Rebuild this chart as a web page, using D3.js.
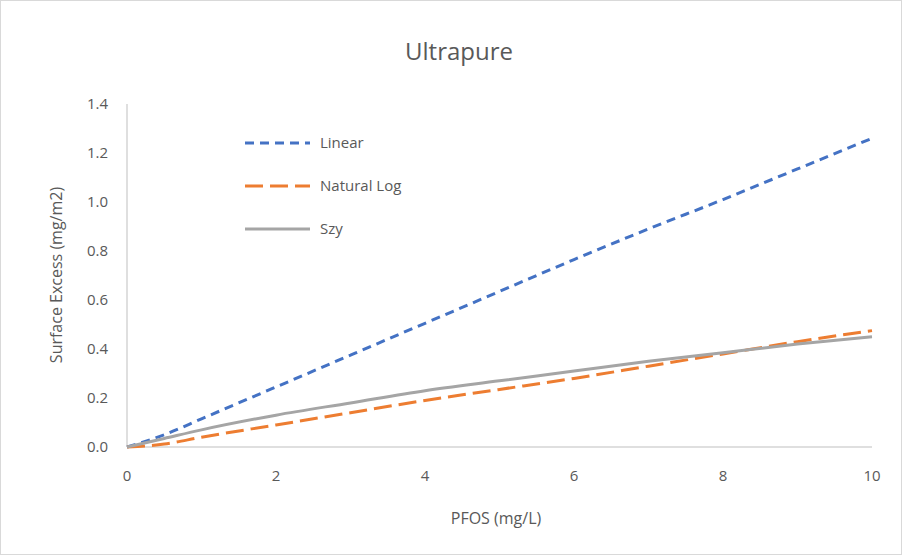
<!DOCTYPE html><html><head><meta charset="utf-8"><script src="https://cdn.jsdelivr.net/npm/d3@7"></script>
<style>body{margin:0;background:#fff}text{font-family:"Open Sans",sans-serif;fill:#595959}</style></head><body><svg width="903" height="556"></svg><script>
const xs=[0,0.5,1,2,3,4,5,6,7,8,9,10];
const linear=[0,0.05,0.115,0.245,0.375,0.505,0.635,0.765,0.89,1.01,1.135,1.26];
const natlog=[0,0.012,0.04,0.09,0.14,0.19,0.235,0.28,0.33,0.38,0.43,0.475];
const szy=[0,0.035,0.07,0.13,0.18,0.23,0.27,0.31,0.35,0.385,0.42,0.45];
const xTicks=[0,2,4,6,8,10];
const yTicks=[0,0.2,0.4,0.6,0.8,1.0,1.2,1.4];
const series=[{name:"Linear",v:linear,c:"#4472C4",d:"9,6"},{name:"Natural Log",v:natlog,c:"#ED7D31",d:"18,7"},{name:"Szy",v:szy,c:"#A5A5A5",d:null}];
const svg=d3.select("svg");
svg.append("rect").attr("x",0.5).attr("y",0.5).attr("width",901).attr("height",554).attr("fill","#fff").attr("stroke","#d9d9d9");
const x=d3.scaleLinear().domain([0,10]).range([127,872]);
const y=d3.scaleLinear().domain([0,1.4]).range([447,104]);
svg.append("line").attr("x1",127).attr("x2",127).attr("y1",104).attr("y2",447).attr("stroke","#bfbfbf");
svg.append("line").attr("x1",127).attr("x2",872).attr("y1",447).attr("y2",447).attr("stroke","#bfbfbf");
svg.selectAll(".yt").data(yTicks).join("text").attr("x",108).attr("y",d=>y(d)+5).attr("text-anchor","end").attr("font-size",15).text(d=>d.toFixed(1));
svg.selectAll(".xt").data(xTicks).join("text").attr("x",d=>x(d)).attr("y",481).attr("text-anchor","middle").attr("font-size",15).text(d=>d);
svg.append("text").attr("x",459).attr("y",60).attr("text-anchor","middle").attr("font-size",24).text("Ultrapure");
svg.append("text").attr("x",496).attr("y",524).attr("text-anchor","middle").attr("font-size",16).text("PFOS (mg/L)");
svg.append("text").attr("transform","translate(62,275) rotate(-90)").attr("text-anchor","middle").attr("font-size",16).text("Surface Excess (mg/m2)");
const line=d3.line().x((d,i)=>x(xs[i])).y(d=>y(d)).curve(d3.curveMonotoneX);
series.forEach((s,k)=>{
 svg.append("path").attr("d",line(s.v)).attr("fill","none").attr("stroke",s.c).attr("stroke-width",3).attr("stroke-dasharray",s.d);
 const ly=143+k*43;
 svg.append("line").attr("x1",245).attr("x2",310).attr("y1",ly).attr("y2",ly).attr("stroke",s.c).attr("stroke-width",3).attr("stroke-dasharray",s.d);
 svg.append("text").attr("x",320).attr("y",ly+5).attr("font-size",15).text(s.name);
});
</script></body></html>
